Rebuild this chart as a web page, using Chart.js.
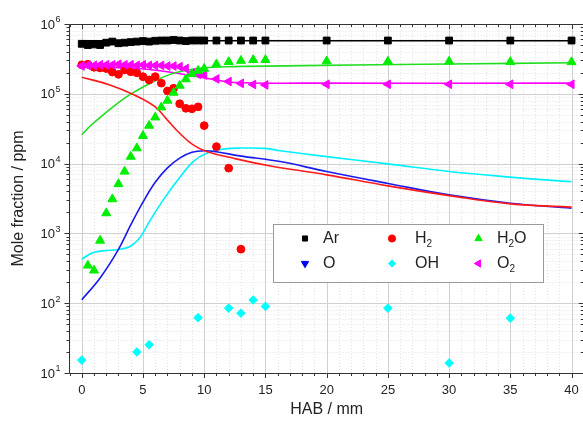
<!DOCTYPE html>
<html>
<head>
<meta charset="utf-8">
<script src="https://cdn.jsdelivr.net/npm/chart.js@4.4.1/dist/chart.umd.min.js"></script>
<style>
  html, body { margin: 0; padding: 0; background: #fff; overflow: hidden; }
  #wrap { width: 583px; height: 421px; overflow: hidden; }
</style>
</head>
<body>
<div id="wrap"><canvas id="chart" width="590" height="421"></canvas></div>
<script>
// axis ticks
const xTicks = [0, 5, 10, 15, 20, 25, 30, 35, 40];
const yExponents = [1, 2, 3, 4, 5, 6];

// measured points (HAB in mm, mole fraction in ppm)
const arX = [0, 0.5, 1, 1.5, 2, 2.5, 3, 3.5, 4, 4.5, 5, 5.5, 6, 6.5, 7, 7.5, 8, 8.5, 9, 9.5, 10, 11, 12, 13, 14, 15, 20, 25, 30, 35, 40];
const arY = [5.2e5, 5.0e5, 5.1e5, 5.0e5, 5.4e5, 5.6e5, 5.3e5, 5.4e5, 5.5e5, 5.6e5, 5.7e5, 5.6e5, 5.75e5, 5.8e5, 5.8e5, 5.9e5, 5.8e5, 5.7e5, 5.8e5, 5.8e5, 5.8e5,
             5.8e5, 5.8e5, 5.8e5, 5.8e5, 5.8e5, 5.8e5, 5.8e5, 5.8e5, 5.8e5, 5.8e5];
const o2X = arX;
const o2Y = [2.5e5, 2.55e5, 2.55e5, 2.6e5, 2.6e5, 2.6e5, 2.65e5, 2.6e5, 2.6e5, 2.55e5, 2.6e5, 2.55e5, 2.55e5, 2.55e5, 2.5e5, 2.5e5, 2.45e5, 2.3e5, 2.0e5, 1.9e5, 1.85e5,
             1.63e5, 1.5e5, 1.41e5, 1.36e5, 1.34e5, 1.37e5, 1.37e5, 1.37e5, 1.37e5, 1.37e5];
const h2oX = [0.5, 1, 1.5, 2, 2.5, 3, 3.5, 4, 4.5, 5, 5.5, 6, 6.5, 7, 7.5, 8, 8.5, 9, 9.5, 10, 11, 12, 13, 14, 15, 20, 25, 30, 35, 40];
const h2oY = [347, 295, 790, 1950, 3100, 5100, 7700, 1.26e4, 1.66e4, 2.5e4, 3.5e4, 4.6e4, 6.4e4, 8.0e4, 1.04e5, 1.31e5, 1.62e5, 1.92e5, 2.14e5, 2.29e5,
              2.65e5, 2.86e5, 2.98e5, 3.06e5, 3.06e5, 2.93e5, 2.9e5, 2.9e5, 2.87e5, 2.85e5];
const h2X = [0, 0.5, 1, 1.5, 2, 2.5, 3, 3.5, 4, 4.5, 5, 5.5, 6, 6.5, 7, 7.5, 8, 8.5, 9, 9.5, 10, 11, 12, 13];
const h2Y = [2.6e5, 2.65e5, 2.4e5, 2.35e5, 2.3e5, 2.05e5, 1.9e5, 2.2e5, 2.07e5, 2.0e5, 1.76e5, 1.58e5, 1.76e5, 1.42e5, 1.1e5, 1.2e5, 7.2e4, 6.2e4, 6.1e4, 6.5e4, 3.5e4,
             1.75e4, 8.6e3, 594];
const ohX = [0, 4.5, 5.5, 9.5, 12, 13, 14, 15, 25, 30, 35];
const ohY = [15.3, 20, 25.4, 62, 85, 72, 111, 90, 85, 13.9, 61];

// model curves
const arModelX = [0, 10, 20, 30, 40];
const arModelY = [5.75e5, 5.75e5, 5.75e5, 5.75e5, 5.75e5];
const h2ModelX = [0, 2.3, 4.3, 6.0, 7.0, 8.0, 9.1, 10.2, 12.4, 15.2, 20, 25, 30, 35, 40];
const h2ModelY = [1.73e5, 1.34e5, 9.6e4, 6.5e4, 4.2e4, 2.72e4, 1.85e4, 1.49e4, 1.19e4, 9.4e3, 6.9e3, 4.8e3, 3.48e3, 2.65e3, 2.38e3];
const h2oModelX = [0, 0.8, 1.75, 3, 4, 5.6, 7.5, 9.7, 12.4, 18, 30, 40];
const h2oModelY = [2.6e4, 3.6e4, 5.0e4, 7.5e4, 9.9e4, 1.42e5, 1.97e5, 2.32e5, 2.45e5, 2.53e5, 2.67e5, 2.79e5];
const o2ModelX = [0, 4.3, 7.0, 9.7, 11, 12.4, 18, 40];
const o2ModelY = [2.45e5, 2.32e5, 2.07e5, 1.73e5, 1.58e5, 1.45e5, 1.42e5, 1.42e5];
const oModelX = [0, 1.5, 3, 4, 5, 6, 7, 8, 9, 10, 11, 12.9, 16.2, 20, 25, 30, 35, 40];
const oModelY = [112, 230, 590, 1320, 2800, 5400, 8700, 1.2e4, 1.45e4, 1.53e4, 1.48e4, 1.29e4, 1.07e4, 7.7e3, 5.2e3, 3.56e3, 2.71e3, 2.3e3];
const ohModelX = [0, 0.95, 2.0, 2.85, 3.95, 4.75, 5.55, 6.7, 8.0, 9.1, 10.2, 11.55, 13, 15, 16.2, 20, 25, 30, 35, 40];
const ohModelY = [428, 532, 569, 582, 649, 870, 1500, 3100, 6300, 1.07e4, 1.41e4, 1.61e4, 1.67e4, 1.65e4, 1.53e4, 1.26e4, 9.9e3, 7.7e3, 6.4e3, 5.5e3];

const FONT = '"Liberation Sans", Arial, sans-serif';
const TEXT = '#222';

const pts = (xs, ys) => xs.map((x, i) => ({ x: x, y: ys[i] }));

function markers(label, xs, ys, color, style, rot, radius, order) {
  return {
    label: label, data: pts(xs, ys), showLine: false,
    pointStyle: style, pointRotation: rot, pointRadius: radius,
    backgroundColor: color, borderColor: color, borderWidth: 1, order: order
  };
}
function model(xs, ys, color) {
  return {
    data: pts(xs, ys), showLine: true, pointRadius: 0,
    borderColor: color, borderWidth: 1.6, tension: 0.4,
    order: 10
  };
}

// legend layout: [label, color, style, rotation]
const legendRows = [
  [['Ar', '#000000', 'rect', 0], ['H2', '#ff0000', 'circle', 0], ['H2O', '#00ee00', 'triangle', 0]],
  [['O', '#0000ff', 'triangle', 180], ['OH', '#00ffff', 'rectRot', 0], ['O2', '#ff00ff', 'triangle', -90]]
];

function drawChem(ctx, text, x, y) {
  let cx = x;
  for (const ch of text) {
    const sub = /\d/.test(ch);
    ctx.font = (sub ? '10px ' : '16px ') + FONT;
    ctx.fillText(ch, cx, sub ? y + 6 : y);
    cx += ctx.measureText(ch).width;
  }
}

function yMinorValues() {
  const out = [];
  for (let e = 1; e < 6; e++) for (let m = 2; m <= 9; m++) out.push(m * Math.pow(10, e));
  return out;
}

const frame = {
  id: 'frame',
  beforeDatasetsDraw(chart) {
    const { ctx, chartArea: a, scales: { x, y } } = chart;
    ctx.save();
    ctx.lineWidth = 1;
    ctx.strokeStyle = '#e2e2e2';
    ctx.setLineDash([1, 2]);
    ctx.beginPath();
    for (let v = -1; v <= 41; v++) {
      if (xTicks.includes(v)) continue;
      const px = Math.round(x.getPixelForValue(v)) + 0.5;
      ctx.moveTo(px, a.top); ctx.lineTo(px, a.bottom);
    }
    yMinorValues().forEach(v => {
      const py = Math.round(y.getPixelForValue(v)) + 0.5;
      ctx.moveTo(a.left, py); ctx.lineTo(a.right, py);
    });
    ctx.stroke();
    ctx.setLineDash([]);
    ctx.strokeStyle = '#d0d0d0';
    ctx.beginPath();
    xTicks.forEach(v => {
      const px = Math.round(x.getPixelForValue(v)) + 0.5;
      ctx.moveTo(px, a.top); ctx.lineTo(px, a.bottom);
    });
    yExponents.forEach(e => {
      const py = Math.round(y.getPixelForValue(Math.pow(10, e))) + 0.5;
      ctx.moveTo(a.left, py); ctx.lineTo(a.right, py);
    });
    ctx.stroke();
    ctx.restore();
  },
  afterDatasetsDraw(chart) {
    const { ctx, chartArea: a, scales: { x, y } } = chart;
    ctx.save();
    // frame and ticks
    ctx.strokeStyle = '#333';
    ctx.lineWidth = 1;
    ctx.beginPath();
    ctx.rect(Math.round(a.left) - 0.5, Math.round(a.top) + 0.5, Math.round(a.right - a.left), Math.round(a.bottom - a.top));
    for (let v = -1; v <= 41; v++) {
      const len = xTicks.includes(v) ? 5 : 3;
      const px = Math.round(x.getPixelForValue(v)) + 0.5;
      ctx.moveTo(px, a.bottom); ctx.lineTo(px, a.bottom + len);
      ctx.moveTo(px, a.top); ctx.lineTo(px, a.top + len);
    }
    const yAll = yMinorValues().map(v => [v, 3]).concat(yExponents.map(e => [Math.pow(10, e), 5]));
    yAll.forEach(([v, len]) => {
      const py = Math.round(y.getPixelForValue(v)) + 0.5;
      ctx.moveTo(a.left, py); ctx.lineTo(a.left - len, py);
      ctx.moveTo(a.right, py); ctx.lineTo(a.right - len, py);
    });
    ctx.stroke();

    // y tick labels 10^n
    ctx.fillStyle = TEXT;
    ctx.textBaseline = 'middle';
    yExponents.forEach(e => {
      const py = y.getPixelForValue(Math.pow(10, e));
      ctx.font = '13px ' + FONT;
      ctx.textAlign = 'right';
      ctx.fillText('10', 55, py + 1);
      ctx.font = '9px ' + FONT;
      ctx.textAlign = 'left';
      ctx.fillText(String(e), 55.5, py - 4);
    });

    // legend box
    ctx.fillStyle = '#fff';
    ctx.fillRect(273.5, 224.5, 270, 58);
    ctx.strokeStyle = '#9a9a9a';
    ctx.strokeRect(273.5, 224.5, 270, 58);
    const markX = [305, 392, 478.5];
    const textX = [323, 415, 497];
    const rowY = [238.5, 263.5];
    legendRows.forEach((row, r) => {
      row.forEach(([label, color, style, rot], c) => {
        ctx.fillStyle = color;
        ctx.strokeStyle = color;
        ctx.lineWidth = 1;
        Chart.helpers.drawPoint(ctx, { pointStyle: style, rotation: rot, radius: style === 'triangle' ? 4.2 : 3.6, borderWidth: 1 }, markX[c], rowY[r]);
        ctx.fillStyle = TEXT;
        ctx.textAlign = 'left';
        ctx.textBaseline = 'middle';
        drawChem(ctx, label, textX[c], rowY[r]);
      });
    });
    ctx.restore();
  }
};

Chart.defaults.font.family = FONT;
Chart.defaults.color = TEXT;

new Chart(document.getElementById('chart'), {
  type: 'scatter',
  data: {
    datasets: [
      model(arModelX, arModelY, '#000000'),
      model(h2ModelX, h2ModelY, '#ff1a1a'),
      model(h2oModelX, h2oModelY, '#22dd22'),
      model(o2ModelX, o2ModelY, '#ff00ff'),
      model(oModelX, oModelY, '#1a1aee'),
      model(ohModelX, ohModelY, '#00f0ff'),
      markers('OH', ohX, ohY, '#00ffff', 'rectRot', 0, 4.3, 5),
      markers('Ar', arX, arY, '#000000', 'rect', 0, 4.8, 4),
      markers('H2', h2X, h2Y, '#ff0000', 'circle', 0, 3.9, 3),
      markers('O2', o2X, o2Y, '#ff00ff', 'triangle', -90, 5, 2),
      markers('H2O', h2oX, h2oY, '#00ee00', 'triangle', 0, 5.2, 1)
    ]
  },
  options: {
    responsive: false,
    animation: false,
    events: [],
    layout: { padding: { left: 0, right: 6, top: 24, bottom: 0 } },
    plugins: { legend: { display: false }, tooltip: { enabled: false } },
    scales: {
      x: {
        type: 'linear', min: -1, max: 41,
        afterBuildTicks: s => { s.ticks = xTicks.map(v => ({ value: v })); },
        afterFit: s => { s.height = 48; },
        grid: { display: false, drawTicks: false },
        border: { display: false },
        ticks: { font: { size: 13 }, color: TEXT, padding: 10, maxRotation: 0, autoSkip: false },
        title: { display: true, text: 'HAB / mm', font: { size: 16 }, color: TEXT, padding: { top: 0, bottom: 2 } }
      },
      y: {
        type: 'logarithmic', min: 10, max: 1e6,
        afterFit: s => { s.width = 69.5; },
        grid: { display: false, drawTicks: false },
        border: { display: false },
        ticks: { display: false },
        title: { display: true, text: 'Mole fraction / ppm', font: { size: 16 }, color: TEXT, padding: { top: 9, bottom: 0 } }
      }
    }
  },
  plugins: [frame]
});
</script>
</body>
</html>
